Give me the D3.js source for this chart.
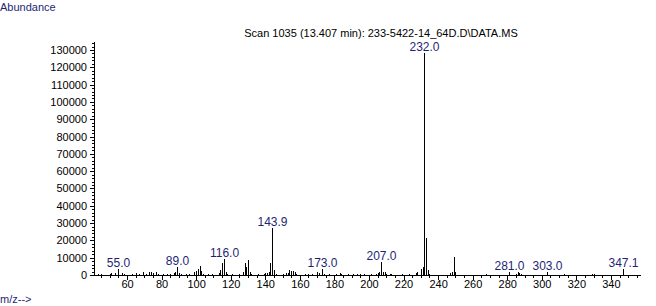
<!DOCTYPE html>
<html>
<head>
<meta charset="utf-8">
<script src="https://cdn.jsdelivr.net/npm/d3@7"></script>
<style>
  body { margin: 0; background: #fff; }
  svg { font-family: "Liberation Sans", Arial, sans-serif; }
</style>
</head>
<body>
<svg id="chart" width="656" height="306"></svg>
<script>
// ----------------------------
// Data
// ----------------------------
const mz = [41, 43, 45, 50, 51, 53, 55, 57, 58, 63, 65, 67, 69, 71, 73, 74, 75, 77, 78,
  81, 83, 85, 87, 88, 89, 90, 91, 94, 96, 99, 100, 101, 102, 103, 104, 107, 109,
  113, 114, 115, 116, 117, 118, 121, 125, 127, 128, 129, 130, 131, 132, 136, 139,
  140, 141, 142, 143, 143.9, 145, 146, 150, 152, 153, 154, 155, 156, 157, 158,
  163, 165, 167, 170, 171, 173, 174, 177, 181, 183, 184, 188, 191, 193, 195, 197,
  201, 204, 205, 206, 207, 208, 209, 210, 212, 213, 219, 223, 227, 228, 230, 231,
  232, 233, 234, 235, 247, 248, 249, 250, 268, 281, 285, 286, 287, 288, 303, 313,
  329, 330, 347.1];
const abundance = [600, 800, 500, 700, 1000, 900, 3500, 1200, 600, 800, 1200, 700, 1500, 800, 1600, 2000, 1200, 1500, 800,
  600, 700, 800, 1000, 1500, 4500, 1200, 800, 600, 800, 1500, 2500, 3500, 5000, 2500, 800, 600, 600,
  1000, 3000, 7000, 9300, 2000, 800, 600, 700, 1500, 7000, 4500, 8700, 2000, 800, 600, 700,
  1000, 1200, 2000, 7000, 27000, 3000, 800, 600, 1000, 1200, 3000, 2500, 2500, 2000, 800,
  600, 800, 700, 1500, 1000, 3500, 800, 600, 600, 1000, 800, 500, 600, 600, 800, 600,
  500, 800, 1200, 1500, 7500, 2000, 1500, 800, 600, 600, 500, 500, 1000, 1500, 3500, 4500,
  128500, 21500, 3000, 800, 1000, 1500, 10500, 2000, 400, 2000, 600, 1500, 1200, 800, 2000, 400,
  800, 600, 3500];

const peakLabels = ["55.0", "89.0", "116.0", "143.9", "173.0", "207.0", "232.0", "281.0", "303.0", "347.1"];

const xTicks = [60, 80, 100, 120, 140, 160, 180, 200, 220, 240, 260, 280, 300, 320, 340];
const yTicks = [0, 10000, 20000, 30000, 40000, 50000, 60000, 70000, 80000, 90000,
  100000, 110000, 120000, 130000];

const titleText = "Scan 1035 (13.407 min): 233-5422-14_64D.D\\DATA.MS";
const yLabel = "Abundance";
const xLabel = "m/z-->";

// ----------------------------
// Scales / axes
// ----------------------------
const svg = d3.select("#chart");
const navy = "#1f1f75";

const x = d3.scaleLinear().domain([40.9, 357.4]).range([94, 641]);
const y = d3.scaleLinear().domain([0, 130000]).range([275, 50]);
const yTop = y.invert(42);

const xAxis = svg.append("g")
  .attr("transform", "translate(0,275)")
  .call(d3.axisBottom(x).tickValues(xTicks).tickFormat(d3.format("d")).tickSize(5).tickSizeOuter(0));
xAxis.select(".domain").attr("d", `M${x.range()[0]},0.5H${x.range()[1]}`);

svg.append("g")
  .attr("transform", "translate(0,275)")
  .call(d3.axisBottom(x).tickValues(d3.range(45, 357, 5).filter(v => v % 20 !== 0))
    .tickFormat("").tickSize(3).tickSizeOuter(0))
  .call(g => g.select(".domain").remove());

svg.append("g")
  .attr("transform", "translate(94,0)")
  .call(d3.axisLeft(y).tickValues(yTicks).tickFormat(d3.format("d")).tickSize(4).tickSizeOuter(0))
  .call(g => g.select(".domain").attr("d", `M0.5,${y(yTop)}V${y(0)}`));

svg.append("g")
  .attr("transform", "translate(94,0)")
  .call(d3.axisLeft(y).tickValues(d3.range(2000, yTop, 2000).filter(v => v % 10000 !== 0))
    .tickFormat("").tickSize(2).tickSizeOuter(0))
  .call(g => g.select(".domain").remove());

svg.selectAll(".tick text")
  .attr("font-size", 11)
  .attr("font-family", "Liberation Sans, Arial, sans-serif")
  .attr("fill", "#000");
svg.selectAll(".domain, .tick line").attr("stroke", "#000").attr("shape-rendering", "crispEdges");
xAxis.selectAll(".tick text").attr("dy", "0.6em").attr("y", 6);

// ----------------------------
// Peaks
// ----------------------------
const peaks = mz.map((m, i) => ({ m, a: abundance[i] }));
const px = d => Math.round(x(d.m)) + 0.5;

svg.append("g").selectAll("line")
  .data(peaks)
  .join("line")
  .attr("x1", px).attr("x2", px)
  .attr("y1", y(0))
  .attr("y2", d => Math.round(y(d.a)))
  .attr("stroke", "#000")
  .attr("shape-rendering", "crispEdges");

svg.append("g").selectAll("text")
  .data(peakLabels)
  .join("text")
  .attr("x", d => px(peaks.find(p => p.m === +d)))
  .attr("y", d => y(peaks.find(p => p.m === +d).a) - 2)
  .attr("text-anchor", "middle")
  .attr("font-size", 12)
  .attr("fill", navy)
  .text(d => d);

// ----------------------------
// Titles
// ----------------------------
svg.append("text")
  .attr("x", 381).attr("y", 37)
  .attr("text-anchor", "middle")
  .attr("font-size", 11)
  .text(titleText);

svg.append("text")
  .attr("x", 0).attr("y", 11)
  .attr("font-size", 11)
  .attr("fill", navy)
  .text(yLabel);

svg.append("text")
  .attr("x", 0).attr("y", 303)
  .attr("font-size", 11)
  .attr("fill", navy)
  .text(xLabel);
</script>
</body>
</html>
